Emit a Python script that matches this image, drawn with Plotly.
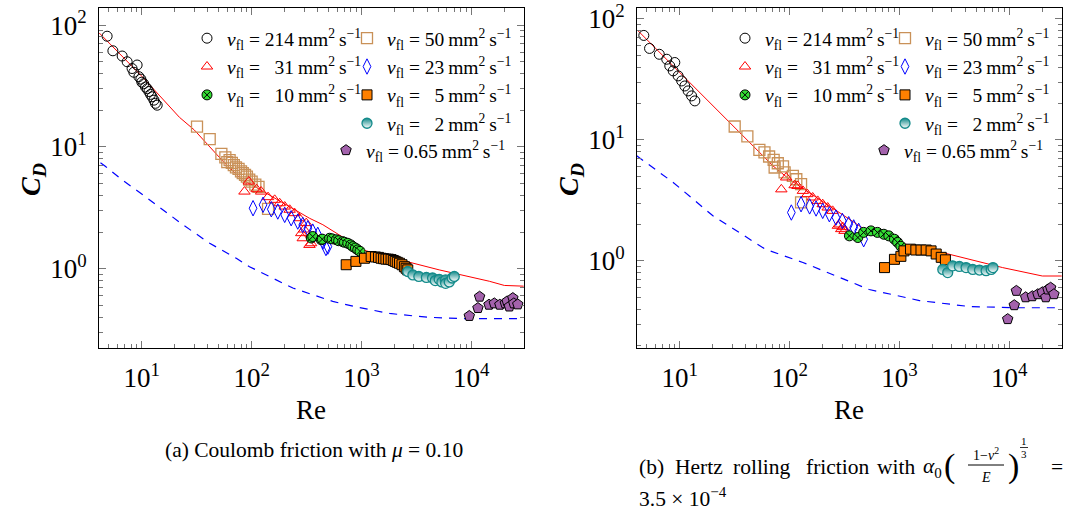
import plotly.graph_objects as go

# ---------------- data: (a) Coulomb friction ----------------
a214_re = [4.83, 5.45, 6.62, 7.35, 9.06, 8.15, 8.45, 9.4, 9.8, 10.0, 10.4, 10.8, 11.2, 11.6, 12.0, 12.4, 12.9, 13.3, 13.8]
a214_cd = [81, 61.5, 55.7, 50, 47, 44, 41, 37.7, 36, 34, 33, 31, 30, 28.5, 27, 25.8, 24.2, 22.8, 22]
a50_re = [31.8, 41.5, 53, 57.6, 60, 63, 66, 68.8, 72, 76, 80, 83, 87, 90.5, 95, 100, 108, 115.5, 141]
a50_cd = [14.7, 11.6, 8.76, 8.2, 7.5, 7.8, 7.4, 7.1, 6.8, 6.6, 6.3, 6.1, 5.9, 5.7, 5.4, 5.2, 4.9, 4.7, 3.1]
a31_re = [86, 94, 111, 122, 141, 162, 180, 200, 222, 246, 272, 314, 283, 292, 300, 336, 348]
a31_cd = [4.3, 5.2, 4.5, 4.3, 3.87, 3.68, 3.45, 3.24, 3.05, 2.86, 2.6, 2.37, 1.96, 1.78, 2.1, 1.57, 1.62]
a23_re = [103, 127, 151, 173, 200, 229, 263, 292, 325, 360, 400, 445, 475, 494]
a23_cd = [3.14, 3.35, 3.08, 2.95, 2.77, 2.6, 2.44, 2.29, 2.15, 2.02, 1.9, 1.67, 1.48, 1.52]
a10_re = [349, 360, 430, 440, 512, 540, 590, 620, 675, 700, 750, 800, 835, 880, 925, 970]
a10_cd = [1.79, 1.84, 1.73, 1.75, 1.78, 1.76, 1.73, 1.70, 1.67, 1.65, 1.62, 1.57, 1.52, 1.48, 1.43, 1.39]
a5_re = [726, 890, 1065, 1225, 1340, 1430, 1510, 1590, 1670, 1760, 1860, 1950, 2030, 2120, 2220, 2340, 2460, 2550, 2640]
a5_cd = [1.08, 1.15, 1.22, 1.26, 1.25, 1.24, 1.22, 1.21, 1.2, 1.2, 1.19, 1.17, 1.15, 1.13, 1.11, 1.08, 1.04, 1.01, 0.98]
a2_re = [2640, 2940, 3330, 3900, 4440, 4700, 5100, 5400, 5840, 5840, 6300, 6700, 7000]
a2_cd = [0.95, 0.89, 0.865, 0.85, 0.84, 0.8, 0.82, 0.78, 0.81, 0.76, 0.78, 0.84, 0.865]
a065_re = [9590, 11500, 11900, 14500, 16200, 18200, 20400, 21200, 22200, 23900, 24400, 26500]
a065_cd = [0.41, 0.476, 0.59, 0.507, 0.52, 0.507, 0.52, 0.54, 0.49, 0.575, 0.52, 0.51]
a_model_re = [4.1, 10, 22, 30, 55, 83, 96, 180, 254, 336, 445, 631, 1050, 2550, 5100, 14600, 20000, 30000]
a_model_cd = [86, 38, 17.5, 13.8, 7.6, 5.3, 5.0, 3.6, 3.05, 2.6, 2.3, 1.9, 1.42, 1.15, 0.98, 0.79, 0.73, 0.72]
a_sphere_re = [4.2, 4.68, 6.6, 10.8, 23.8, 41.5, 72.5, 95.6, 237, 548, 863, 1800, 4000, 8900, 30000]
a_sphere_cd = [7.4, 6.9, 5.37, 3.9, 2.29, 1.62, 1.22, 1.04, 0.695, 0.54, 0.49, 0.43, 0.40, 0.39, 0.39]

# ---------------- data: (b) Hertz rolling friction ----------------
b214_re = [4.7, 5.3, 6.5, 7.6, 9.0, 8.1, 8.7, 9.65, 10.4, 11.1, 11.9, 12.8, 13.7]
b214_cd = [73, 57, 51, 46.4, 43.6, 40.9, 37.2, 33.8, 30.7, 27.9, 25.4, 23.1, 21.0]
b50_re = [31.6, 41.2, 53, 59, 65, 71.5, 73, 78, 87, 90, 107, 115, 127, 127]
b50_cd = [12.9, 10.7, 8.26, 7.87, 7.29, 6.83, 5.91, 6.41, 6.03, 5.38, 5.04, 4.73, 4.31, 3.04]
b31_re = [84, 93, 111, 118, 132, 145, 162, 180, 200, 222, 246, 275, 285, 295, 305, 316]
b31_cd = [3.9, 4.89, 4.22, 4.16, 3.79, 3.56, 3.34, 3.13, 2.94, 2.76, 2.59, 1.95, 2.0, 1.83, 1.9, 1.77]
b23_re = [103.6, 127, 152, 174, 200, 230, 264, 302, 345, 383, 425, 472]
b23_cd = [2.51, 2.94, 2.82, 2.71, 2.59, 2.43, 2.28, 2.14, 2.01, 1.89, 1.77, 1.51]
b10_re = [350, 418, 472, 550, 630, 720, 800, 900, 963, 1030]
b10_cd = [1.61, 1.56, 1.72, 1.77, 1.72, 1.66, 1.61, 1.51, 1.42, 1.32]
b5_re = [731, 900, 1030, 1100, 1260, 1410, 1570, 1750, 1940, 2160, 2400, 2620]
b5_cd = [0.88, 1.03, 1.09, 1.21, 1.25, 1.23, 1.23, 1.23, 1.21, 1.14, 1.07, 1.02]
b2_re = [2480, 2750, 3050, 3510, 4040, 4650, 5350, 6150, 6850, 7100]
b2_cd = [0.85, 0.80, 0.91, 0.90, 0.88, 0.85, 0.84, 0.83, 0.85, 0.88]
b065_re = [9670, 11100, 11600, 14100, 16200, 18200, 20000, 21500, 22500, 23800, 25500]
b065_cd = [0.33, 0.43, 0.565, 0.50, 0.51, 0.53, 0.55, 0.50, 0.58, 0.60, 0.53]
b_model_re = [4.15, 10, 30, 70.5, 100, 215, 530, 1150, 2480, 8700, 20000, 30000]
b_model_cd = [80, 36, 13.2, 6.1, 4.7, 2.94, 1.72, 1.37, 1.17, 0.88, 0.75, 0.75]
b_sphere_re = [4.04, 8.7, 20, 60, 132, 266, 530, 1520, 4300, 10700, 30000]
b_sphere_cd = [7.4, 4.45, 2.36, 1.25, 0.97, 0.75, 0.58, 0.47, 0.42, 0.41, 0.41]

labels = [
    "<i>ν</i><sub>fl</sub> = 214\u2009mm<sup>2</sup>\u2009s<sup>−1</sup>",
    "<i>ν</i><sub>fl</sub> = 50\u2009mm<sup>2</sup>\u2009s<sup>−1</sup>",
    "<i>ν</i><sub>fl</sub> = \u200731\u2009mm<sup>2</sup>\u2009s<sup>−1</sup>",
    "<i>ν</i><sub>fl</sub> = 23\u2009mm<sup>2</sup>\u2009s<sup>−1</sup>",
    "<i>ν</i><sub>fl</sub> = \u200710\u2009mm<sup>2</sup>\u2009s<sup>−1</sup>",
    "<i>ν</i><sub>fl</sub> = \u20075\u2009mm<sup>2</sup>\u2009s<sup>−1</sup>",
    "<i>ν</i><sub>fl</sub> = \u20072\u2009mm<sup>2</sup>\u2009s<sup>−1</sup>",
    "<i>ν</i><sub>fl</sub> = 0.65\u2009mm<sup>2</sup>\u2009s<sup>−1</sup>",
]
x_major = [10, 100, 1000, 10000]
x_major_text = ["10<sup>1</sup>", "10<sup>2</sup>", "10<sup>3</sup>", "10<sup>4</sup>"]
y_major = [1, 10, 100]
y_major_text = ["10<sup>0</sup>", "10<sup>1</sup>", "10<sup>2</sup>"]

FONT = "Liberation Serif, Times New Roman, Times, serif"
W, H = 1071, 515

styles = [
    dict(symbol="circle-open", color="black", size=10, line=dict(color="black", width=1)),
    dict(symbol="square-open", color="#c99158", size=11, line=dict(color="#c99158", width=1.3)),
    dict(symbol="triangle-up-open", color="red", size=10, line=dict(color="red", width=1)),
    dict(symbol="diamond-tall-open", color="blue", size=11, line=dict(color="blue", width=1)),
    dict(symbol="circle-x", color="#33dd33", size=10, line=dict(color="black", width=1)),
    dict(symbol="square", color="#ff8000", size=10, line=dict(color="black", width=1)),
    dict(symbol="circle", color="#138a8a", size=10, line=dict(color="#138a8a", width=1.3),
         gradient=dict(type="vertical", color="white")),
    dict(symbol="pentagon", color="#a362ac", size=11, line=dict(color="black", width=1)),
]

fig = go.Figure()

panels = [
    ("x", "y", [(a214_re, a214_cd), (a50_re, a50_cd), (a31_re, a31_cd), (a23_re, a23_cd),
                (a10_re, a10_cd), (a5_re, a5_cd), (a2_re, a2_cd), (a065_re, a065_cd)],
     (a_model_re, a_model_cd), (a_sphere_re, a_sphere_cd), ["legend", "legend2", "legend3"]),
    ("x2", "y2", [(b214_re, b214_cd), (b50_re, b50_cd), (b31_re, b31_cd), (b23_re, b23_cd),
                  (b10_re, b10_cd), (b5_re, b5_cd), (b2_re, b2_cd), (b065_re, b065_cd)],
     (b_model_re, b_model_cd), (b_sphere_re, b_sphere_cd), ["legend4", "legend5", "legend6"]),
]
legend_of = [0, 1, 0, 1, 0, 1, 1, 2]

for p, (xa, ya, series, model, sphere, legs) in enumerate(panels):
    fig.add_trace(go.Scatter(x=model[0], y=model[1], mode="lines", xaxis=xa, yaxis=ya,
                             line=dict(color="red", width=1), showlegend=False))
    fig.add_trace(go.Scatter(x=sphere[0], y=sphere[1], mode="lines", xaxis=xa, yaxis=ya,
                             line=dict(color="blue", width=1.2, dash="8px,7px"), showlegend=False))
    for i, (rx, cy) in enumerate(series):
        fig.add_trace(go.Scatter(x=rx, y=cy, mode="markers", xaxis=xa, yaxis=ya,
                                 marker=styles[i], name=labels[i], legend=legs[legend_of[i]],
                                 legendgroup=f"g{p}{i}"))

minor_x = [m * 10 ** k for k in range(0, 5) for m in range(2, 10)]
minor_y = [m * 10 ** k for k in range(-1, 3) for m in range(2, 10)]

def px_x(p):
    return p / W

def px_y(p):
    return 1 - p / H

y0, y1 = px_y(348), px_y(8)
doms = [(px_x(99), px_x(524)), (px_x(637), px_x(1062))]
yranges = [[-0.65, 2.14], [-0.72, 2.09]]

axis_common = dict(type="log", showgrid=False, zeroline=False, showline=True, linecolor="black",
                   linewidth=1, mirror="ticks", ticks="inside", ticklen=7, tickcolor="#777",
                   automargin=False, ticklabeloverflow="allow",
                   tickfont=dict(family=FONT, size=27, color="black"))

for k, (xn, yn) in enumerate([("xaxis", "yaxis"), ("xaxis2", "yaxis2")]):
    fig.layout[xn] = dict(axis_common, domain=list(doms[k]), range=[0.61, 4.48], anchor=("y" if k == 0 else "y2"),
                          tickvals=x_major, ticktext=x_major_text, ticklabelstandoff=6,
                          minor=dict(tickvals=minor_x, ticks="inside", ticklen=4, tickcolor="#777"))
    fig.layout[yn] = dict(axis_common, domain=[y0, y1], range=yranges[k], anchor=("x" if k == 0 else "x2"),
                          tickvals=y_major, ticktext=y_major_text, ticklabelstandoff=6,
                          minor=dict(tickvals=minor_y, ticks="inside", ticklen=4, tickcolor="#777"))

leg_common = dict(bgcolor="rgba(0,0,0,0)", font=dict(family=FONT, size=19.5, color="black"),
                  xanchor="left", yanchor="top", itemclick=False, tracegroupgap=0)
leg_pos = [(187, 19), (347, 19), (326, 131)]
for k in range(2):
    for j in range(3):
        name = ["legend", "legend2", "legend3", "legend4", "legend5", "legend6"][k * 3 + j]
        lx, ly = leg_pos[j]
        fig.layout[name] = dict(leg_common, x=px_x(lx + 538 * k), y=px_y(ly))

def ann(text, x, y, size, xanchor="center", angle=0):
    return dict(text=text, x=px_x(x), y=px_y(y), xref="paper", yref="paper", xanchor=xanchor,
                yanchor="middle", showarrow=False, textangle=angle,
                font=dict(family=FONT, size=size, color="black"))

annots = []
for k in range(2):
    off = 538 * k
    annots.append(ann("Re", 311 + off, 410, 27))
    annots.append(ann("<b><i>C</i></b><sub><b><i>D</i></b></sub>", 32 + off, 180, 28, angle=-90))

annots.append(ann("(a) Coulomb friction with <i>μ</i> = 0.10", 314, 450, 21.5))

cap_y = 467
for txt, xl in [("(b)", 637), ("Hertz", 673), ("rolling", 731), ("friction", 804), ("with", 875),
                ("<i>α</i><sub>0</sub>", 921)]:
    annots.append(ann(txt, xl, cap_y, 21.5, xanchor="left"))
annots += [
    ann("(", 949, 466, 34),
    ann(")", 1013, 466, 34),
    ann("1−<i>ν</i><sup>2</sup>", 986, 454, 14),
    ann("<i>E</i>", 986, 477, 14),
    ann("1", 1024, 441, 11),
    ann("3", 1024, 454, 11),
    ann("=", 1057, cap_y, 21.5),
    ann("3.5 × 10<sup>−4</sup>", 637, 497, 21.5, xanchor="left"),
]

shapes = [
    dict(type="line", xref="paper", yref="paper", x0=px_x(968), x1=px_x(1004), y0=px_y(465), y1=px_y(465),
         line=dict(color="black", width=1)),
    dict(type="line", xref="paper", yref="paper", x0=px_x(1020), x1=px_x(1028), y0=px_y(447.5), y1=px_y(447.5),
         line=dict(color="black", width=0.8)),
]

fig.update_layout(width=W, height=H, margin=dict(l=0, r=0, t=0, b=0, autoexpand=False), plot_bgcolor="white",
                  paper_bgcolor="white", annotations=annots, shapes=shapes,
                  font=dict(family=FONT, color="black"))

fig.write_html("out.html", config={"displayModeBar": False},
               post_script="document.body.style.margin='0';document.body.style.overflow='hidden';")
